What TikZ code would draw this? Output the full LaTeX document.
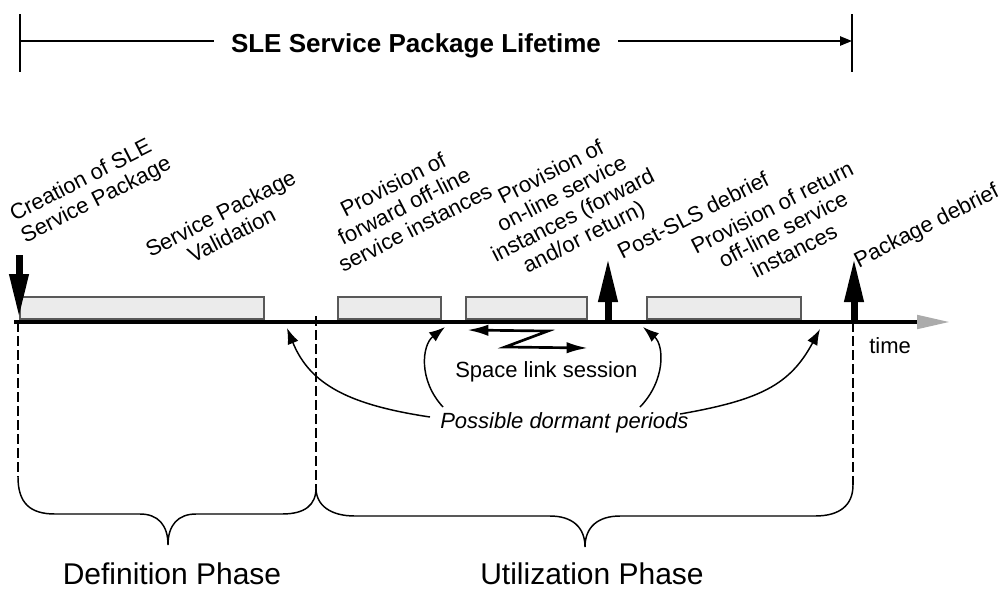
\documentclass[tikz,border=0pt]{standalone}
\usepackage{fontspec}
\setmainfont{Liberation Sans}
\usetikzlibrary{arrows.meta}
\begin{document}
\begin{tikzpicture}[x=0.75pt,y=-0.75pt,
  lbl/.style={font=\fontsize{16.5}{17.6}\selectfont, inner sep=0pt},
  rotlbl/.style={font=\fontsize{16.5}{18.2}\selectfont, inner sep=0pt, rotate=27, align=center},
  phase/.style={font=\fontsize{22.5}{27}\selectfont, inner sep=0pt},
  titletxt/.style={font=\fontsize{19.5}{23}\selectfont\bfseries, inner xsep=12.75pt, inner ysep=0pt},
  svcbox/.style={draw=black!65, fill=black!8, line width=0.9pt, inner sep=0pt, minimum height=16.5pt},
  evt/.style={line width=5.25pt, -{Triangle[length=33pt,width=13.5pt]}},
  dorm/.style={line width=1.1pt, -{Latex[length=12pt,width=8.5pt]}},
  guide/.style={line width=1.5pt, dash pattern=on 7.5pt off 3pt},
  bracepath/.style={line width=1.1pt},
  span/.style={line width=1.1pt},
]
\useasboundingbox (0,0) rectangle (1002,590);

% lifetime span at the top
\coordinate (ltop) at (20,14);  \coordinate (lbot) at (20,72);
\coordinate (rtop) at (852,14); \coordinate (rbot) at (852,72);
\coordinate (lmid) at (20,41);  \coordinate (rmid) at (852,41);
\draw[line width=0.9pt] (ltop) -- (lbot);
\draw[line width=0.9pt] (rtop) -- (rbot);
\node[titletxt, anchor=base] (title) at (416,52) {SLE Service Package Lifetime};
\draw[span] (lmid) -- (lmid -| title.west);
\draw[span, -{Triangle[length=9pt,width=7pt]}] (rmid -| title.east) -- (rmid);

% activity boxes
\node[svcbox, minimum width=183pt]   (b1) at (142,308) {};
\node[svcbox, minimum width=77.25pt] (b2) at (389.5,308) {};
\node[svcbox, minimum width=90.75pt] (b3) at (526.5,308) {};
\node[svcbox, minimum width=115.5pt] (b4) at (724,308) {};

% time axis
\coordinate (t0) at (14,322);
\coordinate (t1) at (950,322);
\draw[line width=3pt, -{Triangle[length=24.75pt,width=10pt,color=black!33]}] (t0) -- (t1);
\node[lbl, anchor=base west] (time) at (869,353) {time};

% event arrows
\coordinate (c0) at (19,255);  \coordinate (c1) at (19,318);
\coordinate (p0) at (608,322); \coordinate (p1) at (608,258);
\coordinate (d0) at (854,322); \coordinate (d1) at (854,258);
\draw[evt] (c0) -- (c1);
\draw[evt] (p0) -- (p1);
\draw[evt] (d0) -- (d1);

% rotated labels
\node[rotlbl, align=left] (create) at (91,190) {Creation of SLE\\Service Package};
\node[rotlbl] (valid) at (226,224) {Service Package\\Validation};
\node[rotlbl] (fwd) at (404,206) {Provision of\\forward off-line\\service instances};
\node[rotlbl] (online) at (568,206) {Provision of\\on-line service\\instances (forward\\and/or return)};
\node[rotlbl] (post) at (693,215) {Post-SLS debrief};
\node[rotlbl] (ret) at (783,229) {Provision of return\\off-line service\\instances};
\node[rotlbl] (pkg) at (927,227) {Package debrief};

% space link session
\coordinate (z0) at (467,330);
\coordinate (z1) at (548,331);
\coordinate (z2) at (505,347);
\coordinate (z3) at (588,348);
\draw[line width=2pt, {Latex[length=16pt,width=8.5pt]}-{Latex[length=16pt,width=8.5pt]}] (z0) -- (z1) -- (z2) -- (z3);
\node[lbl, anchor=base west] (sls) at (455,377) {Space link session};

% dormant periods
\node[lbl, anchor=base west, font=\fontsize{16.5}{17.6}\selectfont\itshape] (dorm) at (440,428) {Possible dormant periods};
\coordinate (g1) at (287,328);
\coordinate (g2) at (445,327);
\coordinate (g3) at (643,327);
\coordinate (g4) at (820,329);
\coordinate (s1) at (430,417);
\coordinate (s2) at (443,407);
\coordinate (s3) at (640,407);
\coordinate (s4) at (680,414);
\draw[dorm] (s1) .. controls (350,405) and (310,385) .. (g1);
\draw[dorm] (s2) .. controls (418,380) and (422,345) .. (g2);
\draw[dorm] (s3) .. controls (666,380) and (664,345) .. (g3);
\draw[dorm] (s4) .. controls (760,400) and (790,385) .. (g4);

% phase guides and braces
\coordinate (a0) at (18,322);  \coordinate (a1) at (18,477);
\coordinate (m0) at (316,316); \coordinate (m1) at (316,488);
\coordinate (e0) at (853,322); \coordinate (e1) at (853,485);
\draw[guide] (a0) -- (a1);
\draw[guide] (m0) -- (m1);
\draw[guide] (e0) -- (e1);
\draw[bracepath] (a1) .. controls (18,503) and (30,514) .. (55,514) -- (140,514)
  .. controls (158,514) and (168,525) .. (168,545)
  .. controls (168,525) and (178,514) .. (196,514) -- (282,514)
  .. controls (305,514) and (316,505) .. (m1);
\draw[bracepath] (m1) .. controls (316,505) and (330,516) .. (355,516) -- (550,516)
  .. controls (572,516) and (585,527) .. (585,547)
  .. controls (585,527) and (598,516) .. (620,516) -- (815,516)
  .. controls (840,516) and (853,505) .. (e1);
\node[phase, anchor=base] (defn) at (172,584) {Definition Phase};
\node[phase, anchor=base] (util) at (592,584) {Utilization Phase};
\end{tikzpicture}
\end{document}
